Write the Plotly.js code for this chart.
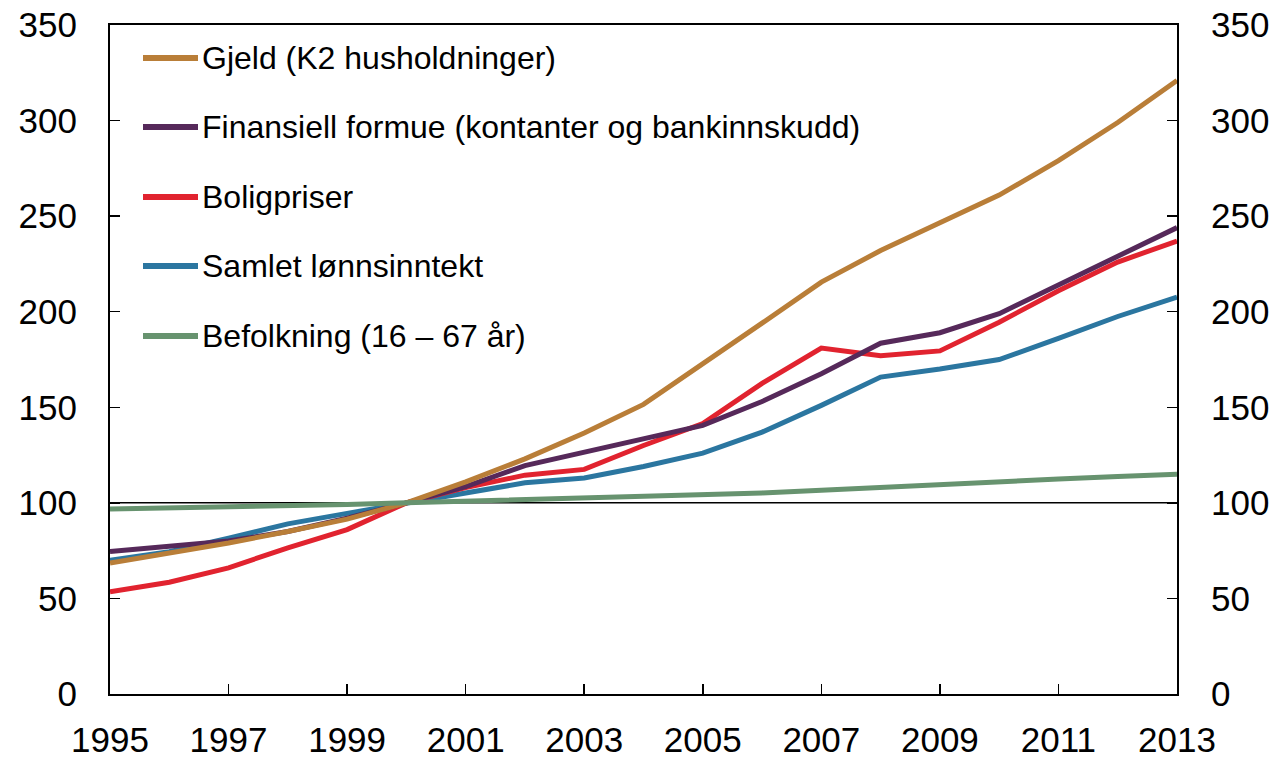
<!DOCTYPE html>
<html>
<head>
<meta charset="utf-8">
<script src="https://cdn.plot.ly/plotly-3.0.1.min.js"></script>
<style>html,body{margin:0;padding:0;background:#fff;}#chart{width:1279px;height:759px;}</style>
</head>
<body>
<div id="chart"></div>
<script>
const years = [1995,1996,1997,1998,1999,2000,2001,2002,2003,2004,2005,2006,2007,2008,2009,2010,2011,2012,2013];
const gjeld = [68.5,73.5,79,85,91.5,100,111,123,136.5,151.5,172.5,194,215.5,232,246.5,261,279,299,321];
const finansiell = [74.5,77.5,80,85,92,100,108.5,119.5,126.5,133,140.5,153,167.5,183.5,189,199,214,229,244];
const boligpriser = [53.5,58.5,66,76.5,86,100,108,114.5,117.5,130,141.5,162.5,181,177,179.5,194.5,211,226,237];
const lonn = [70,74.5,81.5,89,94.5,100,105,110.5,113,119,126,137,151,165.8,170,175,186,197.5,207.7];
const befolkning = [96.8,97.3,97.9,98.5,99.2,100,100.8,101.5,102.3,103.1,104,105.2,106.6,108.2,109.7,111.2,112.5,113.8,115];

const names = ["Gjeld (K2 husholdninger)","Finansiell formue (kontanter og bankinnskudd)","Boligpriser","Samlet lønnsinntekt","Befolkning (16 – 67 år)"];
const series = [gjeld, finansiell, boligpriser, lonn, befolkning];
const colors = ["#B97E38","#56295A","#E1232F","#2B76A0","#67936F"];
const xTicks = [1995,1997,1999,2001,2003,2005,2007,2009,2011,2013];
const yTicks = [0,50,100,150,200,250,300,350];

const traces = series.map((s,i)=>({
  x: years, y: s, type:'scatter', mode:'lines', name: names[i],
  yaxis: i===4 ? 'y2' : 'y',
  line:{color:colors[i], width:5}, showlegend:false, hoverinfo:'skip'
}));
traces.reverse();

const W=1279,H=759,L=110,R=1177,T=25,B=694;
const px2x = p => (p-L)/(R-L);
const py2y = p => (B-p)/(B-T);
const rowY = [58,127,197,266,336];

const shapes = [{type:'line', xref:'paper', x0:0, x1:1, yref:'y', y0:100, y1:100, line:{color:'#000', width:1.5}, layer:'below'}];
const annotations = [];
names.forEach((n,i)=>{
  shapes.push({type:'line', xref:'paper', yref:'paper', x0:px2x(143), x1:px2x(198), y0:py2y(rowY[i]), y1:py2y(rowY[i]), line:{color:colors[i], width:6}});
  annotations.push({xref:'paper', yref:'paper', x:px2x(200), y:py2y(rowY[i]), xanchor:'left', yanchor:'middle', text:n, showarrow:false, font:{size:32, color:'#000', family:'Liberation Sans, Arial, sans-serif'}});
});

const font = {family:'Liberation Sans, Arial, sans-serif', size:35, color:'#000'};
const layout = {
  width:W, height:H,
  margin:{l:L, r:W-R, t:T, b:H-B, pad:0},
  paper_bgcolor:'#fff', plot_bgcolor:'#fff',
  font: font,
  showlegend:false,
  xaxis:{range:[1995,2013], tickvals:xTicks, ticktext:xTicks.map(String), ticks:'inside', ticklen:10, tickwidth:1.5, tickcolor:'#000',
         showline:true, linecolor:'#000', linewidth:2, mirror:true, showgrid:false, zeroline:false, tickfont:font, fixedrange:true, ticklabelstandoff:14},
  yaxis:{range:[0,350], tickvals:yTicks, ticks:'inside', ticklen:10, tickwidth:1.5, tickcolor:'#000',
         showline:true, linecolor:'#000', linewidth:2, showgrid:false, zeroline:false, tickfont:font, fixedrange:true, ticklabelstandoff:24},
  yaxis2:{range:[0,350], tickvals:yTicks, overlaying:'y', side:'right', ticks:'inside', ticklen:10, tickwidth:1.5, tickcolor:'#000',
         showline:true, linecolor:'#000', linewidth:2, showgrid:false, zeroline:false, tickfont:font, fixedrange:true, ticklabelstandoff:25},
  shapes: shapes,
  annotations: annotations
};
Plotly.newPlot('chart', traces, layout, {displayModeBar:false, staticPlot:true});
</script>
</body>
</html>
